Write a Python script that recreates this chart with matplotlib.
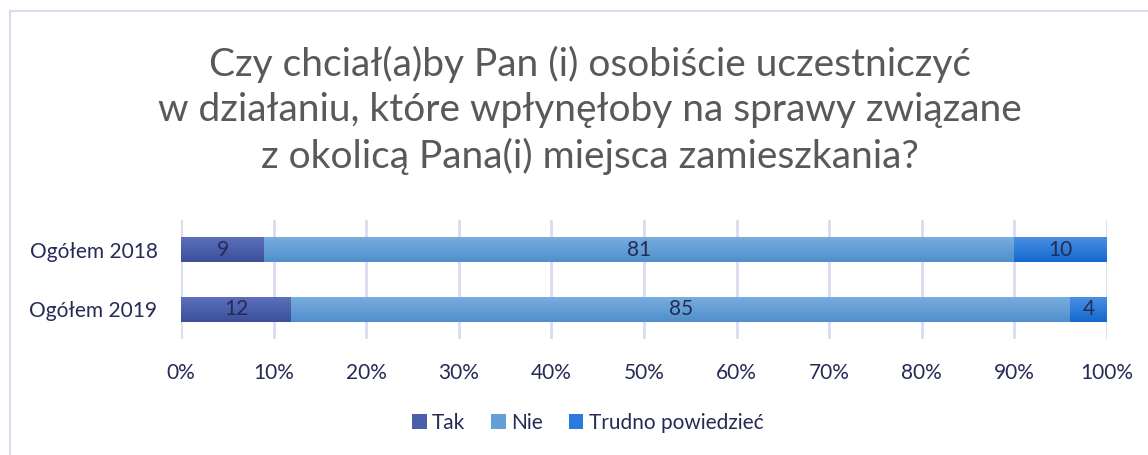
import numpy as np
import matplotlib.pyplot as plt
from matplotlib.colors import LinearSegmentedColormap
from matplotlib.lines import Line2D
from matplotlib.patches import Patch

plt.rcParams['font.family'] = ['Lato', 'DejaVu Sans']

categories = ['Ogółem 2018', 'Ogółem 2019']
series = ['Tak', 'Nie', 'Trudno powiedzieć']
tak = [9, 12]
nie = [81, 85]
trudno = [10, 4]
tick_labels = ['0%', '10%', '20%', '30%', '40%', '50%', '60%', '70%', '80%', '90%', '100%']

title = ('Czy chciał(a)by Pan (i) osobiście uczestniczyć\n'
         'w działaniu, które wpłynęłoby na sprawy związane\n'
         'z okolicą Pana(i) miejsca zamieszkania?')

# top / bottom shade of each series
shades = [('#5b6fba', '#3b4f9b'), ('#78addf', '#4f8fcb'), ('#4a8fe3', '#1468cf')]
flat = ['#4a5eaa', '#64a0d8', '#2a7bdc']
text_col = '#262a55'
grid_col = '#d9dbf0'

values = np.array([tak, nie, trudno], dtype=float)
shares = values / values.sum(axis=0)

fig = plt.figure(figsize=(11.48, 4.55), dpi=100)
ax = fig.add_axes([181 / 1148, 1 - 339 / 455, (1107 - 181) / 1148, 119 / 455])

y = np.arange(len(categories))
left = np.zeros(len(categories))
for i, name in enumerate(series):
    bars = ax.barh(y, shares[i], left=left, height=0.42, color=flat[i], zorder=2)
    cmap = LinearSegmentedColormap.from_list(name, [shades[i][0], shades[i][1]])
    grad = np.linspace(0, 1, 64).reshape(-1, 1)
    for b in bars:
        x0, y0 = b.get_x(), b.get_y()
        w, h = b.get_width(), b.get_height()
        im = ax.imshow(grad, cmap=cmap, aspect='auto', zorder=2.5,
                       extent=[x0, x0 + w, y0 + h, y0], interpolation='bilinear')
        im.set_clip_path(b)
    for j, b in enumerate(bars):
        ax.text(b.get_x() + b.get_width() / 2, b.get_y() + b.get_height() / 2,
                f'{values[i, j]:g}', ha='center', va='center',
                fontsize=15, color=text_col, zorder=4)
    left += shares[i]

ax.set_xlim(0, 1)
ax.set_ylim(1.5, -0.5)
ax.set_xticks(np.linspace(0, 1, 11))
ax.set_xticklabels(tick_labels)
ax.set_yticks(y)
ax.set_yticklabels(categories)
ax.tick_params(length=0, labelsize=15, labelcolor=text_col)
ax.tick_params(axis='x', pad=17)
ax.tick_params(axis='y', pad=17)
ax.grid(axis='x', color=grid_col, linewidth=2, zorder=0)
ax.set_axisbelow(True)
for s in ax.spines.values():
    s.set_visible(False)

fig.text(0.514, 1 - 110 / 455, title, ha='center', va='center',
         fontsize=28, color='#595959', linespacing=1.32)

handles = [Patch(facecolor=c) for c in flat]
fig.legend(handles, series, loc='center', bbox_to_anchor=(0.512, 1 - 423 / 455),
           ncol=3, frameon=False, fontsize=15, labelcolor=text_col,
           handlelength=0.7, handleheight=0.7, handletextpad=0.25, columnspacing=1.25)

# chart frame, cut off on the right and at the bottom
fig.add_artist(Line2D([10 / 1148, 10 / 1148], [0, 1 - 11 / 455], color=grid_col,
                      linewidth=1.5, transform=fig.transFigure))
fig.add_artist(Line2D([10 / 1148, 1], [1 - 11 / 455, 1 - 11 / 455], color=grid_col,
                      linewidth=1.5, transform=fig.transFigure))

fig.savefig('out.png', dpi=100)
